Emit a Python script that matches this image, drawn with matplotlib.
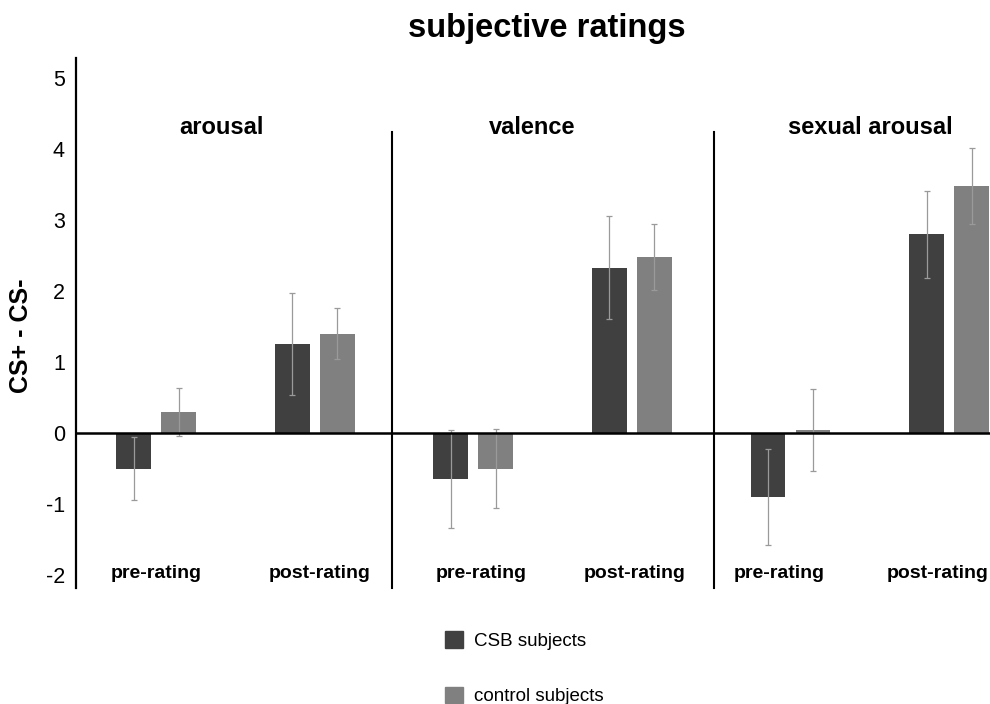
import matplotlib
matplotlib.use("Agg")
from matplotlib import pyplot as plt
from matplotlib.patches import Patch
import numpy as np

plt.rcParams['font.family'] = ['Liberation Sans', 'DejaVu Sans']
plt.rcParams['axes.unicode_minus'] = False

# CS+ minus CS- differences, pre/post for each rating scale
panels = ["arousal", "valence", "sexual arousal"]
phases = ["pre-rating", "post-rating"]
csb_mean = [-0.50, 1.25, -0.65, 2.33, -0.90, 2.80]
csb_err = [0.44, 0.72, 0.69, 0.73, 0.67, 0.61]
ctrl_mean = [0.30, 1.40, -0.50, 2.48, 0.04, 3.48]
ctrl_err = [0.34, 0.36, 0.56, 0.47, 0.58, 0.54]

fig = plt.figure(figsize=(9.9, 7.04), dpi=100)
ax = fig.add_axes([0.0768, 0.1648, 0.962, 0.7528])

x = np.arange(len(csb_mean))
w = 0.22
off = 0.142
ekw = dict(ecolor="#9a9a9a", elinewidth=0.9, capsize=2.5, capthick=0.9)
ax.bar(x - off, csb_mean, w, yerr=csb_err, color="#404040", error_kw=ekw,
       label="CSB subjects")
ax.bar(x + off, ctrl_mean, w, yerr=ctrl_err, color="#808080", error_kw=ekw,
       label="control subjects")

ax.set_xlim(-0.505, 5.5)
ax.set_ylim(-2.18, 5.28)
ax.axhline(0, color="black", lw=1.8, zorder=5)
for xd in [1.49, 3.52]:
    ax.plot([xd, xd], [-2.18, 4.24], color="black", lw=1.5, clip_on=False)

for s in ["top", "right", "bottom"]:
    ax.spines[s].set_visible(False)
ax.spines["left"].set_linewidth(1.6)
ax.set_xticks([])
ax.set_yticks(range(-2, 6))
ax.tick_params(axis="y", length=0, pad=8, labelsize=15.5)
ax.set_ylabel("CS+ - CS-", fontsize=18, fontweight="bold")
ax.yaxis.set_label_coords(-0.045, 0.475)

# panel titles and phase labels
for name, xp in zip(panels, [0.41, 2.37, 4.5]):
    ax.text(xp, 4.3, name, ha="center", va="center", fontsize=17,
            fontweight="bold")
for i, xp in enumerate([0.0, 1.03, 2.05, 3.02, 3.93, 4.93]):
    ax.text(xp, -1.97, phases[i % 2], ha="center", va="center", fontsize=14,
            fontweight="bold")

fig.text(0.5525, 0.96, "subjective ratings", ha="center", va="center",
         fontsize=23.5, fontweight="bold")

handles = [Patch(color="#404040", label="CSB subjects"),
           Patch(color="#808080", label="control subjects")]
fig.legend(handles=handles, loc="upper left", bbox_to_anchor=(0.4495, 0.103),
           frameon=False, fontsize=13.5, handlelength=0.96, handleheight=0.96,
           handletextpad=0.6, labelspacing=1.95, borderaxespad=0, borderpad=0)

plt.savefig("out.png", dpi=100)
